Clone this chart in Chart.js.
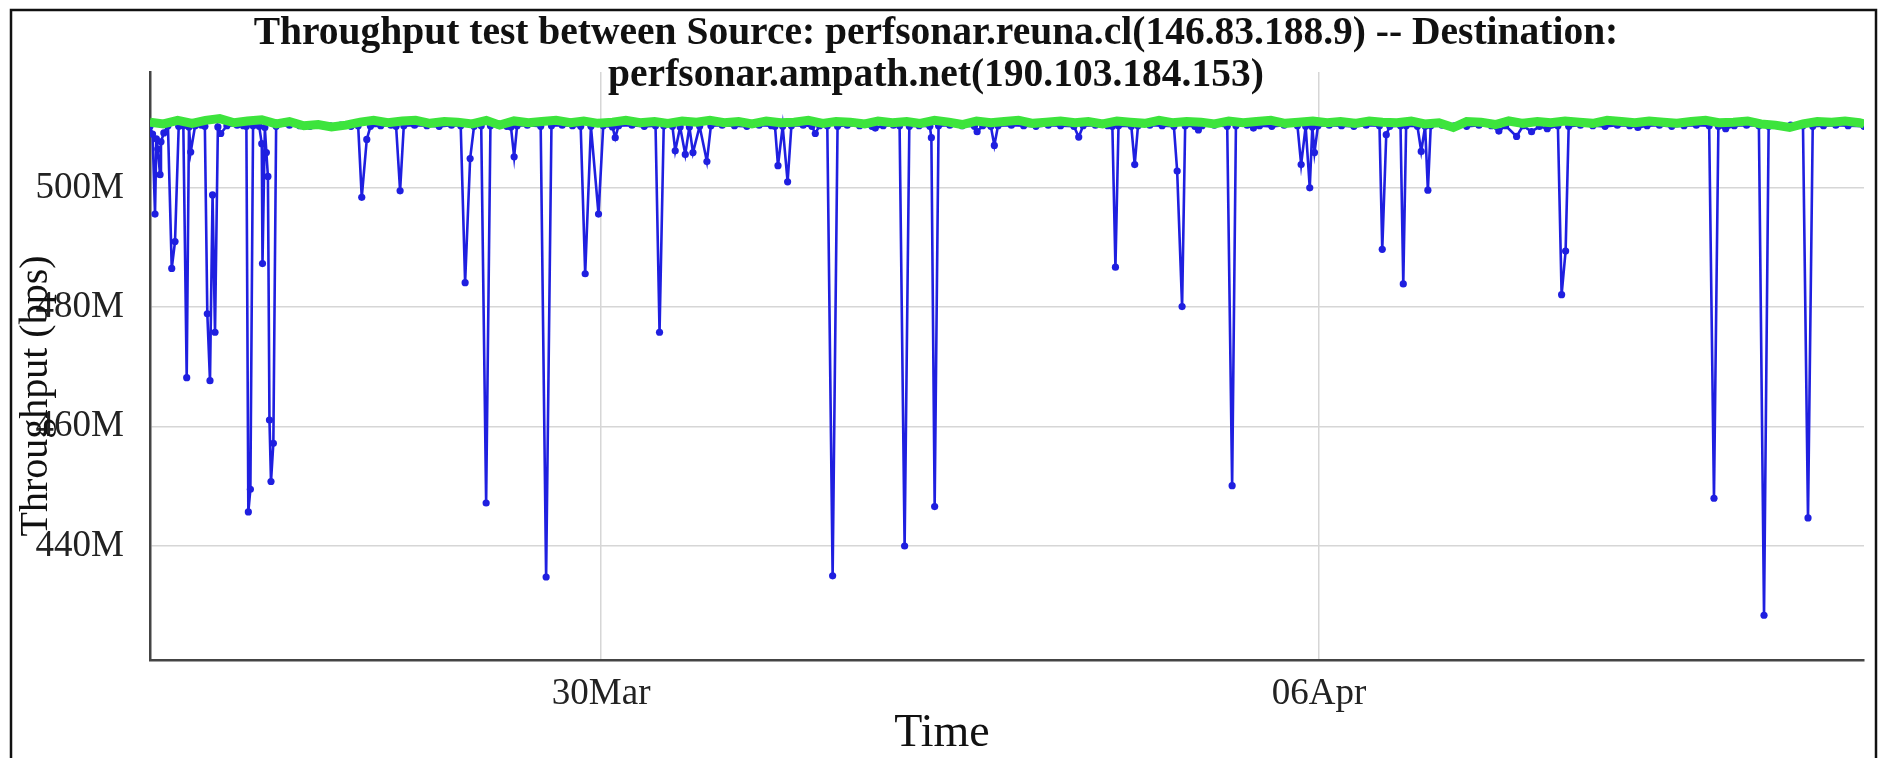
<!DOCTYPE html>
<html>
<head>
<meta charset="utf-8">
<script src="https://cdn.jsdelivr.net/npm/chart.js@4"></script>
<style>
  html, body { margin: 0; padding: 0; background: #fff; }
</style>
</head>
<body>
<canvas id="tputChart" width="1881" height="758"></canvas>
<script>
// labels
const titleLines = [
  'Throughput test between Source: perfsonar.reuna.cl(146.83.188.9) -- Destination:',
  'perfsonar.ampath.net(190.103.184.153)'
];
const xTitle = 'Time';
const yTitle = 'Throughput (bps)';

// time axis is in days (30 = 30 Mar, 37 = 06 Apr)
const xTickValues = [30, 37];
const xTickLabels = ['30Mar', '06Apr'];
const yTickValues = [440, 460, 480, 500];
const yTickLabels = ['440M', '460M', '480M', '500M'];

// blue series (Mbps)
const blueTimes = [
  25.600, 25.625, 25.649, 25.662, 25.676, 25.698, 25.707, 25.735, 25.775, 25.812,
  25.844, 25.880, 25.925, 25.958, 25.980, 25.997, 26.040, 26.100, 26.135, 26.159,
  26.185, 26.210, 26.234, 26.262, 26.290, 26.350, 26.450, 26.510, 26.540, 26.559,
  26.579, 26.605, 26.665, 26.690, 26.697, 26.720, 26.735, 26.750, 26.765, 26.780,
  26.803, 26.830, 26.960, 27.060, 27.160, 27.260, 27.360, 27.460, 27.560, 27.630,
  27.665, 27.714, 27.750, 27.850, 27.950, 28.000, 28.039, 28.075, 28.180, 28.300,
  28.420, 28.540, 28.630, 28.673, 28.722, 28.760, 28.830, 28.878, 28.920, 29.000,
  29.080, 29.120, 29.151, 29.180, 29.280, 29.410, 29.463, 29.515, 29.620, 29.720,
  29.800, 29.844, 29.900, 29.974, 30.020, 30.110, 30.137, 30.170, 30.300, 30.420,
  30.530, 30.569, 30.610, 30.695, 30.722, 30.770, 30.820, 30.860, 30.895, 30.960,
  31.031, 31.070, 31.180, 31.300, 31.420, 31.540, 31.660, 31.695, 31.724, 31.770,
  31.818, 31.855, 31.970, 32.055, 32.088, 32.130, 32.205, 32.257, 32.305, 32.400,
  32.520, 32.640, 32.673, 32.750, 32.850, 32.910, 32.959, 33.005, 33.100, 33.205,
  33.220, 33.252, 33.290, 33.400, 33.520, 33.640, 33.666, 33.720, 33.800, 33.834,
  33.870, 34.000, 34.120, 34.240, 34.360, 34.480, 34.610, 34.657, 34.700, 34.820,
  34.940, 34.985, 35.015, 35.045, 35.170, 35.203, 35.235, 35.350, 35.470, 35.585,
  35.617, 35.665, 35.695, 35.790, 35.824, 35.860, 35.980, 36.105, 36.153, 36.190,
  36.300, 36.361, 36.420, 36.540, 36.660, 36.790, 36.826, 36.870, 36.910, 36.935,
  36.956, 36.990, 37.100, 37.220, 37.340, 37.460, 37.590, 37.617, 37.656, 37.690,
  37.795, 37.822, 37.850, 37.960, 37.997, 38.035, 38.062, 38.090, 38.200, 38.320,
  38.440, 38.560, 38.680, 38.754, 38.820, 38.927, 38.990, 39.073, 39.150, 39.226,
  39.330, 39.366, 39.405, 39.435, 39.550, 39.670, 39.790, 39.910, 40.030, 40.110,
  40.200, 40.320, 40.440, 40.560, 40.680, 40.805, 40.852, 40.895, 40.966, 41.050,
  41.170, 41.290, 41.340, 41.385, 41.480, 41.600, 41.720, 41.769, 41.815, 41.920,
  42.040, 42.160, 42.315
];
const blueValues = [
  510.3, 509.0, 495.6, 508.2, 506.5, 502.2, 507.7, 509.2, 510.4, 486.5,
  491.0, 510.3, 510.4, 468.2, 510.2, 506.0, 510.4, 510.5, 510.3, 478.9,
  467.7, 498.8, 475.8, 510.2, 509.1, 510.4, 510.5, 510.4, 510.3, 445.7,
  449.5, 510.4, 510.3, 507.4, 487.3, 510.1, 505.9, 501.9, 461.1, 450.8,
  457.2, 510.3, 510.5, 510.4, 510.3, 510.5, 510.4, 510.5, 510.3, 510.4,
  498.4, 508.1, 510.3, 510.4, 510.5, 510.3, 499.5, 510.4, 510.5, 510.4,
  510.3, 510.5, 510.4, 484.1, 504.9, 510.3, 510.4, 447.2, 510.4, 510.5,
  510.3, 510.2, 505.2, 510.4, 510.5, 510.3, 434.8, 510.4, 510.5, 510.4,
  510.3, 485.6, 510.3, 495.6, 510.4, 510.2, 508.4, 510.4, 510.5, 510.3,
  510.4, 475.8, 510.4, 510.3, 506.2, 510.2, 505.6, 510.2, 505.9, 510.3,
  504.4, 510.4, 510.5, 510.4, 510.3, 510.5, 510.4, 510.3, 503.7, 510.3,
  501.0, 510.4, 510.5, 510.3, 509.1, 510.4, 510.4, 435.0, 510.3, 510.5,
  510.4, 510.3, 510.0, 510.4, 510.5, 510.4, 440.0, 510.3, 510.4, 510.3,
  508.4, 446.6, 510.4, 510.5, 510.4, 510.3, 509.4, 510.4, 510.3, 507.1,
  510.4, 510.5, 510.4, 510.3, 510.5, 510.4, 510.3, 508.5, 510.4, 510.5,
  510.4, 510.3, 486.7, 510.4, 510.3, 503.9, 510.4, 510.5, 510.4, 510.3,
  502.8, 480.1, 510.4, 510.3, 509.7, 510.4, 510.5, 510.3, 450.1, 510.4,
  510.5, 510.0, 510.4, 510.3, 510.5, 510.4, 503.9, 510.3, 500.0, 510.2,
  505.9, 510.4, 510.5, 510.4, 510.3, 510.5, 510.4, 489.7, 508.9, 510.3,
  510.4, 483.9, 510.4, 510.3, 506.1, 510.3, 499.6, 510.4, 510.5, 510.4,
  510.3, 510.5, 510.4, 509.5, 510.4, 508.6, 510.4, 509.4, 510.3, 509.9,
  510.4, 482.1, 489.4, 510.3, 510.5, 510.4, 510.3, 510.5, 510.4, 510.1,
  510.4, 510.5, 510.3, 510.4, 510.5, 510.4, 448.0, 510.3, 509.9, 510.4,
  510.5, 510.4, 428.4, 510.3, 510.4, 510.5, 510.4, 444.7, 510.3, 510.4,
  510.5, 510.4, 510.3
];

// green series (Mbps)
const greenTimes = [
  25.60, 25.73, 25.87, 26.01, 26.14, 26.28, 26.42, 26.55, 26.69, 26.83,
  26.96, 27.10, 27.24, 27.37, 27.51, 27.65, 27.78, 27.92, 28.06, 28.19,
  28.33, 28.47, 28.60, 28.74, 28.88, 29.01, 29.15, 29.29, 29.42, 29.56,
  29.70, 29.83, 29.97, 30.11, 30.24, 30.38, 30.52, 30.65, 30.79, 30.93,
  31.06, 31.20, 31.34, 31.47, 31.61, 31.75, 31.88, 32.02, 32.16, 32.29,
  32.43, 32.57, 32.70, 32.84, 32.98, 33.11, 33.25, 33.39, 33.52, 33.66,
  33.80, 33.93, 34.07, 34.21, 34.34, 34.48, 34.62, 34.75, 34.89, 35.03,
  35.16, 35.30, 35.44, 35.57, 35.71, 35.85, 35.98, 36.12, 36.26, 36.39,
  36.53, 36.67, 36.80, 36.94, 37.08, 37.21, 37.35, 37.49, 37.62, 37.76,
  37.90, 38.03, 38.17, 38.31, 38.44, 38.58, 38.72, 38.85, 38.99, 39.13,
  39.26, 39.40, 39.54, 39.67, 39.81, 39.95, 40.08, 40.22, 40.36, 40.49,
  40.63, 40.77, 40.90, 41.04, 41.18, 41.31, 41.45, 41.59, 41.72, 41.86,
  42.00, 42.13, 42.27, 42.315
];
const greenValues = [
  511.0, 510.7, 511.3, 510.8, 511.3, 511.6, 510.9, 511.2, 511.4, 510.7,
  511.1, 510.4, 510.6, 510.2, 510.5, 511.0, 511.3, 510.9, 511.2, 511.3,
  510.8, 511.1, 511.0, 510.7, 511.3, 510.5, 511.2, 510.9, 511.1, 511.3,
  510.9, 511.2, 510.8, 511.0, 511.3, 510.9, 511.1, 510.8, 511.2, 511.0,
  511.3, 510.9, 511.1, 510.7, 511.2, 510.9, 511.0, 511.3, 510.8, 511.1,
  511.0, 510.7, 511.2, 510.9, 511.1, 510.8, 511.3, 511.0, 510.6, 511.2,
  510.9, 511.1, 511.3, 510.8, 511.0, 511.2, 510.9, 511.1, 510.7, 511.2,
  511.0, 510.8, 511.3, 510.9, 511.1, 511.0, 510.7, 511.2, 510.9, 511.1,
  511.3, 510.8, 511.0, 511.2, 510.9, 511.1, 510.8, 511.2, 511.0, 510.9,
  511.2, 510.7, 510.9, 510.1, 511.1, 511.0, 510.6, 511.2, 510.8, 511.1,
  510.9, 511.2, 511.0, 510.8, 511.3, 511.1, 510.9, 511.2, 511.0, 510.8,
  511.1, 511.3, 510.9, 511.0, 511.2, 510.7, 510.5, 510.1, 510.7, 511.1,
  511.0, 511.2, 510.9, 510.7
];

const serif = '"Liberation Serif", "Times New Roman", serif';

// white page, outer frame and the titles (drawn by hand so they can overlap the plot top)
const decor = {
  id: 'decor',
  beforeDraw(chart) {
    const ctx = chart.ctx;
    ctx.save();
    ctx.fillStyle = '#fff';
    ctx.fillRect(0, 0, chart.width, chart.height);
    ctx.restore();
  },
  afterDraw(chart) {
    const ctx = chart.ctx;
    ctx.save();
    ctx.strokeStyle = '#111';
    ctx.lineWidth = 2.5;
    ctx.strokeRect(11, 10, 1865, 800);
    ctx.fillStyle = '#111';
    ctx.textAlign = 'center';
    ctx.textBaseline = 'middle';
    ctx.font = 'bold 39.5px ' + serif;
    titleLines.forEach((line, i) => ctx.fillText(line, 936, 34 + i * 42));
    ctx.font = '46px ' + serif;
    ctx.fillText(xTitle, 942, 734);
    ctx.font = '40px ' + serif;
    ctx.translate(36, 396);
    ctx.rotate(-Math.PI / 2);
    ctx.fillText(yTitle, 0, 0);
    ctx.restore();
  }
};

var ctx = document.getElementById('tputChart').getContext('2d');
var tputChart = new Chart(ctx, {
  type: 'line',
  data: {
    datasets: [
      {
        label: 'reverse',
        data: greenTimes.map((t, i) => ({ x: t, y: greenValues[i] })),
        borderColor: '#3de43d',
        backgroundColor: '#3de43d',
        borderWidth: 9,
        pointRadius: 2.5,
        pointBorderWidth: 0,
        tension: 0
      },
      {
        label: 'forward',
        data: blueTimes.map((t, i) => ({ x: t, y: blueValues[i] })),
        borderColor: '#1f1fe0',
        backgroundColor: '#1f1fe0',
        borderWidth: 2.6,
        pointRadius: 3.6,
        pointBorderWidth: 0,
        tension: 0
      }
    ]
  },
  options: {
    responsive: false,
    animation: false,
    layout: { padding: { top: 72, right: 17, bottom: 0, left: 0 } },
    plugins: {
      legend: { display: false },
      title: { display: false },
      tooltip: { enabled: false }
    },
    scales: {
      x: {
        type: 'linear',
        min: 25.60,
        max: 42.315,
        afterBuildTicks: s => { s.ticks = xTickValues.map(v => ({ value: v })); },
        afterFit: s => { s.height = 98; },
        grid: { color: '#d6d6d6', lineWidth: 1.5, drawTicks: false },
        border: { color: '#444', width: 2.5 },
        ticks: {
          padding: 12,
          color: '#222',
          font: { family: serif, size: 37 },
          maxRotation: 0,
          autoSkip: false,
          callback: (v, i) => xTickLabels[i]
        }
      },
      y: {
        min: 420.9,
        max: 519.4,
        afterBuildTicks: s => { s.ticks = yTickValues.map(v => ({ value: v })); },
        afterFit: s => { s.width = 150; },
        grid: { color: '#d6d6d6', lineWidth: 1.5, drawTicks: false },
        border: { color: '#444', width: 2.5 },
        ticks: {
          padding: 26,
          color: '#222',
          font: { family: serif, size: 37 },
          autoSkip: false,
          callback: (v, i) => yTickLabels[i]
        }
      }
    }
  },
  plugins: [decor]
});
</script>
</body>
</html>
